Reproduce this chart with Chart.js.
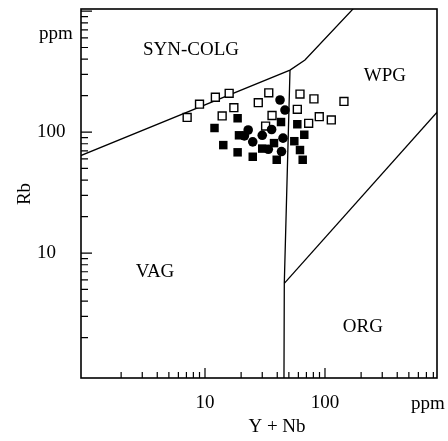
<!DOCTYPE html>
<html>
<head>
<meta charset="utf-8">
<script src="https://cdn.jsdelivr.net/npm/chart.js@4.4.0/dist/chart.umd.min.js"></script>
<style>
html, body { margin: 0; padding: 0; background: #fff; }
#wrap { width: 448px; height: 441px; }
</style>
</head>
<body>
<div id="wrap"><canvas id="chart"></canvas></div>
<script>
// samples (Y+Nb, Rb in ppm)
const openSqX = [7.1, 9.0, 12.2, 15.9, 17.4, 13.9, 27.8, 34.0, 36.2, 32.0, 61.9, 80.9, 58.8, 89.6, 112.9, 73.1, 143.9];
const openSqY = [132, 170, 194, 209, 159, 136, 175, 211, 137, 112, 206, 188, 154, 134, 126, 118, 179];
const filledSqX = [18.7, 12.0, 19.2, 14.2, 18.7, 25.0, 30.0, 37.6, 39.6, 43.0, 58.8, 67.2, 55.5, 61.9, 65.2];
const filledSqY = [130, 108, 94, 78, 68, 62.5, 73, 81, 59, 121, 116, 95, 84, 71, 59];
const circleX = [42.2, 46.4, 22.9, 35.9, 30.0, 25.0, 44.7, 33.7, 43.4, 21.3];
const circleY = [184, 152, 104, 105, 94, 83, 89, 72, 69, 93];

// field boundaries
const bound1X = [0.9, 51.1, 68.1, 196];
const bound1Y = [63.3, 325, 394, 1200];
const bound2X = [51.1, 45.8, 45.5];
const bound2Y = [325, 5.62, 0.8];
const bound3X = [45.8, 1000];
const bound3Y = [5.62, 173];

// axis labels
const xTickLabels = [10, 100];
const yTickLabels = [10, 100];

// field names, placed in data coordinates
const fieldNames = ['SYN-COLG', 'WPG', 'VAG', 'ORG'];
const fieldX = [7.65, 316, 3.83, 207];
const fieldY = [476, 290, 6.97, 2.44];

const pts = (xs, ys) => xs.map((v, i) => ({ x: v, y: ys[i] }));

function logTicks(scale) {
    const out = [];
    for (let e = 0; e <= 3; e++) {
        for (let m = 1; m < 10; m++) {
            const v = m * Math.pow(10, e);
            if (v > 1 && v > scale.min && v < scale.max) out.push({ v: v, major: m === 1 });
        }
    }
    return out;
}

const SERIF = '"Liberation Serif", "DejaVu Serif", serif';

const framePlugin = {
    id: 'frame',
    afterDatasetsDraw(chart) {
        const ctx = chart.ctx;
        const a = chart.chartArea;
        const x = chart.scales.x, y = chart.scales.y;
        ctx.save();
        ctx.strokeStyle = '#000';
        ctx.lineWidth = 1.6;
        ctx.strokeRect(a.left, a.top, a.right - a.left, a.bottom - a.top);

        ctx.lineWidth = 1.2;
        ctx.beginPath();
        logTicks(x).forEach(t => {
            const px = x.getPixelForValue(t.v);
            ctx.moveTo(px, a.bottom);
            ctx.lineTo(px, a.bottom - (t.major ? 10 : 6));
        });
        logTicks(y).forEach(t => {
            const py = y.getPixelForValue(t.v);
            ctx.moveTo(a.left, py);
            ctx.lineTo(a.left + (t.major ? 11 : 7), py);
        });
        ctx.stroke();

        ctx.fillStyle = '#000';
        ctx.font = '19px ' + SERIF;
        ctx.textBaseline = 'middle';

        ctx.textAlign = 'center';
        xTickLabels.forEach(v => ctx.fillText(String(v), x.getPixelForValue(v), 403));
        ctx.textAlign = 'left';
        ctx.fillText('ppm', 411, 404);
        yTickLabels.forEach(v => ctx.fillText(String(v), 37, y.getPixelForValue(v)));
        ctx.fillText('ppm', 39, 34);

        ctx.textAlign = 'center';
        ctx.fillText('Y + Nb', 277, 427);
        ctx.save();
        ctx.translate(25, 194);
        ctx.rotate(-Math.PI / 2);
        ctx.fillText('Rb', 0, 0);
        ctx.restore();

        fieldNames.forEach((n, i) => {
            ctx.fillText(n, x.getPixelForValue(fieldX[i]), y.getPixelForValue(fieldY[i]));
        });
        ctx.restore();
    }
};

const lineStyle = {
    type: 'line',
    showLine: true,
    borderColor: '#000',
    borderWidth: 1.3,
    pointRadius: 0,
    fill: false,
    tension: 0
};

new Chart(document.getElementById('chart'), {
    type: 'scatter',
    data: {
        datasets: [
            { data: pts(circleX, circleY), pointStyle: 'circle', pointRadius: 4.8, backgroundColor: '#000', borderColor: '#000', borderWidth: 0 },
            { data: pts(filledSqX, filledSqY), pointStyle: 'rect', pointRadius: 6, backgroundColor: '#000', borderColor: '#000', borderWidth: 0 },
            { data: pts(openSqX, openSqY), pointStyle: 'rect', pointRadius: 5.6, backgroundColor: '#fff', borderColor: '#000', borderWidth: 1.4 },
            Object.assign({ data: pts(bound1X, bound1Y) }, lineStyle),
            Object.assign({ data: pts(bound2X, bound2Y) }, lineStyle),
            Object.assign({ data: pts(bound3X, bound3Y) }, lineStyle)
        ]
    },
    options: {
        responsive: true,
        maintainAspectRatio: false,
        animation: false,
        layout: { padding: { left: 81, top: 9, right: 11, bottom: 63 } },
        plugins: { legend: { display: false }, tooltip: { enabled: false } },
        scales: {
            x: { type: 'logarithmic', min: 0.926, max: 858, display: false },
            y: { type: 'logarithmic', min: 0.927, max: 1040, display: false }
        }
    },
    plugins: [framePlugin]
});
</script>
</body>
</html>
